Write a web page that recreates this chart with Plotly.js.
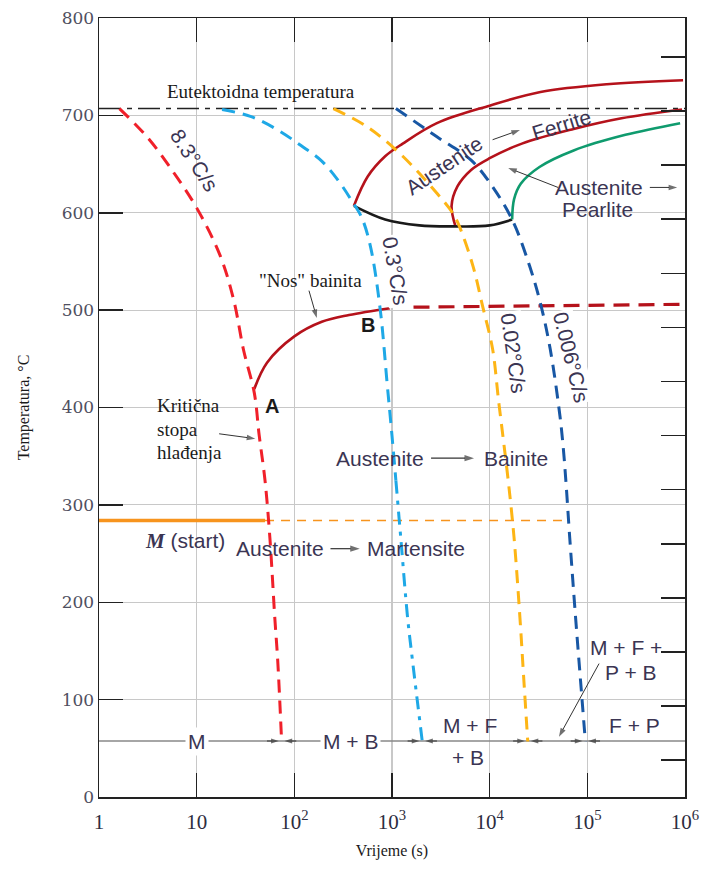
<!DOCTYPE html>
<html><head><meta charset="utf-8">
<script src="https://cdn.plot.ly/plotly-3.0.1.min.js"></script>
<style>html,body{margin:0;padding:0;background:#fff}#chart{width:705px;height:873px}</style>
</head><body><div id="chart"></div>
<script>
// ---------- data (time in s, temperature in °C) ----------
const xTickVals = [1, 10, 100, 1000, 10000, 100000, 1000000];
const xTickText = ['1', '10', '10<sup>2</sup>', '10<sup>3</sup>', '10<sup>4</sup>', '10<sup>5</sup>', '10<sup>6</sup>'];
const yTickVals = [0, 100, 200, 300, 400, 500, 600, 700, 800];

const eutectoidTime = [1, 1000000];
const eutectoidTemp = [707, 707];

// cooling curves
const rate83Time = [1.62, 3.16, 5.75, 10, 17.4, 24.0, 30.2, 38.9, 43.6, 50.1, 56.2, 63.1, 67.6, 74.1];
const rate83Temp = [707, 677, 642, 605, 556, 510, 459, 415, 372, 325, 266, 184, 140, 57];

const rate03TimeA = [18.2, 35.5, 67.6, 117, 191, 282, 389, 490, 603, 759, 891, 1000, 1096];
const rate03TempA = [706, 699, 685, 669, 653, 633, 612, 595, 565, 500, 425, 371, 325];
const rate03TimeB = [1096, 1230, 1445, 1622, 2042];
const rate03TempB = [325, 266, 184, 140, 57];

const rate002Time = [251, 562, 1288, 2884, 4169, 4898, 6761, 8511, 10715, 12303, 13804, 15488, 17783, 20417, 22387, 24547];
const rate002Temp = [707, 688, 658, 620, 600, 586, 545, 503, 460, 408, 367, 325, 266, 184, 120, 57];

const rate0006Time = [1096, 2884, 6457, 10000, 16982, 25704, 33113, 41687, 52481, 56885, 60256, 66069, 75858, 85114, 95499];
const rate0006Temp = [707, 678, 654, 631, 593, 545, 507, 460, 391, 357, 325, 266, 184, 120, 57];

// transformation curves
const ferriteStartTime = [407, 562, 851, 1288, 2884, 10000, 33113, 158489, 954993];
const ferriteStartTemp = [607, 637, 658, 671, 692, 710, 724, 732, 736];

const noseBottomTime = [407, 851, 1905, 4266, 10000, 16982];
const noseBottomTemp = [607, 593, 587, 586, 587, 593];

const ferriteEndTime = [4467, 4074, 4677, 6457, 10000, 21380, 72444, 223872, 933254];
const ferriteEndTemp = [586, 607, 627, 644, 656, 671, 686, 697, 706];

const pearliteTime = [16982, 17783, 20893, 32359, 72444, 245471, 891251];
const pearliteTemp = [593, 614, 630, 647, 664, 680, 692];

const bainiteNoseTime = [38.9, 52.5, 100, 191, 363, 955];
const bainiteNoseTemp = [419, 446, 473, 488, 495, 502];

const bainiteLineTime = [1660, 1000000];
const bainiteLineTemp = [503, 506];

const msSolidTime = [1, 50.1];
const msSolidTemp = [284, 284];
const msDashTime = [50.1, 54954];
const msDashTemp = [284, 284];

const baseLineTime = [1, 1000000];
const baseLineTemp = [57.5, 57.5];

// end times of the cooling curves on the base line (phase-region boundaries)
const regionEndTime = [74.1, 2042, 24547, 95499];

// ---------- styling ----------
const SANS = 'Liberation Sans, Arial, sans-serif';
const SERIF = 'Liberation Serif, Times New Roman, serif';
const LC = '#3b3553';
const RED = '#f0202a', LBLUE = '#1ea8e6', ORANGE = '#fdb515', DBLUE = '#1857a4';
const DRED = '#b5121b', GREEN = '#0f9b6e';

function line(x, y, color, width, dash, shape) {
  return {x: x, y: y, mode: 'lines', type: 'scatter', hoverinfo: 'skip', showlegend: false,
    line: {color: color, width: width, dash: dash || 'solid', shape: shape || 'spline', smoothing: 1}};
}
// pointer arrow: from (lx0, t0) to (lx1, t1), x given in decades
function pointer(lx0, t0, lx1, t1, w, size) {
  return {x: [Math.pow(10, lx0), Math.pow(10, lx1)], y: [t0, t1], mode: 'lines+markers', type: 'scatter',
    hoverinfo: 'skip', showlegend: false, line: {color: '#333', width: w || 1},
    marker: {symbol: 'arrow', size: [0, size || 9], angleref: 'previous', color: '#333', line: {width: 0}}};
}

const traces = [
  line(eutectoidTime, eutectoidTemp, '#222', 1.5, '22px,6px,5px,6px', 'linear'),
  line(baseLineTime, baseLineTemp, '#888', 1.3, 'solid', 'linear'),
  line(msDashTime, msDashTemp, '#f7941d', 1.5, '9px,7px', 'linear'),
  line(msSolidTime, msSolidTemp, '#f7941d', 3.5, 'solid', 'linear'),
  line(ferriteStartTime, ferriteStartTemp, DRED, 2.6),
  line(ferriteEndTime, ferriteEndTemp, DRED, 2.6),
  line(noseBottomTime, noseBottomTemp, '#1a1a1a', 2.6),
  line(pearliteTime, pearliteTemp, GREEN, 2.6),
  line(bainiteNoseTime, bainiteNoseTemp, DRED, 2.6),
  line(bainiteLineTime, bainiteLineTemp, DRED, 3.2, '16px,9px', 'linear'),
  line(rate83Time, rate83Temp, RED, 3, '13px,8px'),
  line(rate03TimeA, rate03TempA, LBLUE, 3, '13px,8px'),
  line(rate03TimeB, rate03TempB, LBLUE, 3, '13px,7px,4px,7px'),
  line(rate002Time, rate002Temp, ORANGE, 3, '13px,8px'),
  line(rate0006Time, rate0006Temp, DBLUE, 3, '13px,8px'),
  // annotation pointers
  pointer(4.03, 675, 4.31, 685, 1, 9),
  pointer(5.64, 626, 5.92, 626, 1, 9),
  pointer(4.70, 626, 4.19, 646, 1, 9),
  pointer(2.15, 520, 2.23, 492, 1, 9),
  pointer(1.23, 373, 1.60, 368, 1, 9),
  pointer(3.40, 348, 3.84, 348, 1.2, 10),
  pointer(2.37, 255, 2.67, 255, 1.2, 10),
  pointer(5.12, 137, 4.71, 62, 1, 9),
  {x: [1000000], y: [100], yaxis: 'y2', mode: 'markers', marker: {opacity: 0}, hoverinfo: 'skip', showlegend: false}
];
// chevrons on the base line pointing at each boundary
regionEndTime.forEach(function (t) {
  const lt = Math.log10(t);
  traces.push(pointer(lt - 0.15, 57.5, lt - 0.03, 57.5, 1, 8));
  traces.push(pointer(lt + 0.15, 57.5, lt + 0.03, 57.5, 1, 8));
});

function txt(x, y, text, o) {
  return Object.assign({x: x, y: y, xref: 'x', yref: 'y', text: text, showarrow: false,
    font: {family: SANS, size: 21, color: LC}}, o || {});
}
const serifF = {family: SERIF, size: 19, color: '#1a1a1a'};
const rotF = {family: SANS, size: 21, color: LC};

const annotations = [
  txt(1.66, 725, 'Eutektoidna temperatura', {font: serifF}),
  txt(0.98, 654, '8.3°C/s', {textangle: 57, font: rotF}),
  txt(3.04, 540, '0.3°C/s', {textangle: 80, bgcolor: '#fff', font: rotF}),
  txt(4.24, 456, '0.02°C/s', {textangle: 82, bgcolor: '#fff', font: rotF}),
  txt(4.83, 452, '0.006°C/s', {textangle: 76, bgcolor: '#fff', font: rotF}),
  txt(3.53, 649, 'Austenite', {textangle: -34}),
  txt(4.74, 691, 'Ferrite', {textangle: -17}),
  txt(5.12, 626, 'Austenite'),
  txt(5.10, 603, 'Pearlite'),
  txt(2.17, 530, '"Nos" bainita', {font: serifF}),
  txt(2.75, 485, '<b>B</b>', {font: {family: SANS, size: 20, color: '#1a1a1a'}}),
  txt(1.77, 402, '<b>A</b>', {font: {family: SANS, size: 20, color: '#1a1a1a'}}),
  txt(0.57, 402, 'Kritična', {xanchor: 'left', font: serifF}),
  txt(0.57, 377, 'stopa', {xanchor: 'left', font: serifF}),
  txt(0.57, 354, 'hlađenja', {xanchor: 'left', font: serifF}),
  txt(2.88, 348, 'Austenite'),
  txt(4.27, 348, 'Bainite'),
  txt(0.88, 263, '<span style="font-family:Liberation Serif"><b><i>M</i></b></span> (start)'),
  txt(1.85, 255, 'Austenite'),
  txt(3.25, 255, 'Martensite'),
  // bottom region labels
  txt(1.0, 57.5, 'M', {bgcolor: '#fff', borderpad: 2}),
  txt(2.58, 57.5, 'M + B', {bgcolor: '#fff', borderpad: 2}),
  txt(3.80, 73, 'M + F'),
  txt(3.78, 41, '+ B'),
  txt(5.48, 73, 'F + P'),
  txt(5.40, 154, 'M + F +'),
  txt(5.45, 128, 'P + B')
];

const layout = {
  width: 705, height: 873,
  margin: {l: 99, r: 20, t: 18, b: 76},
  paper_bgcolor: '#fff', plot_bgcolor: '#fff',
  showlegend: false,
  xaxis: {
    type: 'log', range: [0, 6], tickvals: xTickVals, ticktext: xTickText,
    ticks: 'inside', ticklen: 24, tickwidth: 1.5, tickcolor: '#222',
    showline: true, linecolor: '#222', linewidth: 1.5, mirror: 'ticks',
    showgrid: true, gridcolor: '#c8c8c8', gridwidth: 1.2, zeroline: false,
    ticklabelstandoff: 5,
    tickfont: {family: SERIF, size: 21, color: '#2d2d40'},
    title: {text: 'Vrijeme (s)', font: {family: SERIF, size: 16, color: '#1a1a1a'}, standoff: 12}
  },
  yaxis: {
    range: [0, 800], tickvals: yTickVals,
    ticks: 'inside', ticklen: 24, tickwidth: 1.5, tickcolor: '#222',
    showline: true, linecolor: '#222', linewidth: 1.5, mirror: true,
    showgrid: true, gridcolor: '#c8c8c8', gridwidth: 1.2, zeroline: false,
    tickfont: {family: 'DejaVu Serif, serif', size: 17, color: '#4f4f60'},
    title: {text: 'Temperatura, °C', font: {family: SERIF, size: 16, color: '#1a1a1a'}, standoff: 28}
  },
  yaxis2: {
    overlaying: 'y', side: 'right', range: [32, 1472], tick0: 0, dtick: 100,
    ticks: 'inside', ticklen: 24, tickwidth: 1.5, tickcolor: '#222',
    showticklabels: false, showgrid: false, showline: false, zeroline: false
  },
  annotations: annotations
};

Plotly.newPlot('chart', traces, layout, {displayModeBar: false, staticPlot: true});
</script></body></html>
